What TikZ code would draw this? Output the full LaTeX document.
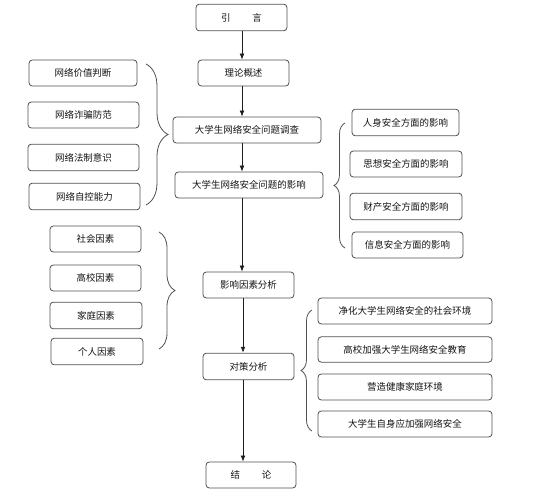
\documentclass[tikz,border=0pt]{standalone}
\usepackage{fontspec}
\newfontfamily\cjk{Noto Sans CJK SC}
\usetikzlibrary{arrows.meta,decorations.pathreplacing}
\tikzset{
    stage/.style={
        rectangle,
        rounded corners=2.5pt,
        draw={rgb,255:red,80;green,80;blue,80},
        line width=0.6pt,
        inner sep=0pt,
        text centered,
        text={rgb,255:red,20;green,20;blue,20},
        font=\cjk\fontsize{7.1pt}{8pt}\selectfont},
    flow/.style={draw={rgb,255:red,30;green,30;blue,30},line width=0.6pt,-{Latex[length=4.5pt,width=3.6pt]}},
    curly/.style={draw={rgb,255:red,80;green,80;blue,80},line width=0.6pt,decorate,decoration={brace,amplitude=#1}}
}

\begin{document}
\begin{tikzpicture}[x=0.75pt,y=0.75pt,yscale=-1,xscale=1]
\useasboundingbox (0,0) rectangle (533,491);

% main line
\node[stage,minimum width=68.25pt,minimum height=20pt] (intro) at (241.5,17.5) {引\hspace{2.3em}言};
\node[stage,minimum width=68.25pt,minimum height=19.5pt] (theory) at (243.5,73) {理论概述};
\node[stage,minimum width=111pt,minimum height=19.5pt] (survey) at (247,130) {大学生网络安全问题调查};
\node[stage,minimum width=111pt,minimum height=19.5pt] (impact) at (249,185) {大学生网络安全问题的影响};
\node[stage,minimum width=68.25pt,minimum height=19.5pt] (factor) at (248.5,285) {影响因素分析};
\node[stage,minimum width=68.25pt,minimum height=20pt] (measure) at (248.5,366.5) {对策分析};
\node[stage,minimum width=67.5pt,minimum height=19.5pt] (concl) at (251,475) {结\hspace{2.3em}论};

% survey topics
\node[stage,minimum width=81pt,minimum height=19.5pt] (value) at (83,73) {网络价值判断};
\node[stage,minimum width=83.25pt,minimum height=19.5pt] (fraud) at (83.5,115) {网络诈骗防范};
\node[stage,minimum width=83.25pt,minimum height=20pt] (law) at (83.5,157.5) {网络法制意识};
\node[stage,minimum width=83.25pt,minimum height=20pt] (control) at (84.5,196.5) {网络自控能力};

% impact topics
\node[stage,minimum width=80.25pt,minimum height=20pt] (person) at (405.5,122.5) {人身安全方面的影响};
\node[stage,minimum width=84pt,minimum height=19.5pt] (thought) at (406,164) {思想安全方面的影响};
\node[stage,minimum width=84pt,minimum height=20pt] (property) at (406,206.5) {财产安全方面的影响};
\node[stage,minimum width=83.25pt,minimum height=19.5pt] (info) at (407.5,245) {信息安全方面的影响};

% factors
\node[stage,minimum width=68.25pt,minimum height=19.5pt] (society) at (95.5,239) {社会因素};
\node[stage,minimum width=68.25pt,minimum height=19.5pt] (school) at (95.5,278) {高校因素};
\node[stage,minimum width=69pt,minimum height=20pt] (family) at (96,315.5) {家庭因素};
\node[stage,minimum width=69pt,minimum height=20pt] (self) at (97,351.5) {个人因素};

% measures
\node[stage,minimum width=130.5pt,minimum height=19.5pt] (purify) at (405,311) {净化大学生网络安全的社会环境};
\node[stage,minimum width=130.5pt,minimum height=19pt] (educate) at (405,349.5) {高校加强大学生网络安全教育};
\node[stage,minimum width=130.5pt,minimum height=19.5pt] (home) at (405,387) {营造健康家庭环境};
\node[stage,minimum width=130.5pt,minimum height=19.5pt] (oneself) at (405,424) {大学生自身应加强网络安全};

% arrows
\coordinate (spine) at (242,0);
\coordinate (spinelow) at (243,0);
\draw[flow] (intro.south -| spine) -- (theory.north -| spine);
\draw[flow] (theory.south -| spine) -- (survey.north -| spine);
\draw[flow] (survey.south -| spine) -- (impact.north -| spine);
\draw[flow] (impact.south -| spine) -- (factor.north -| spine);
\draw[flow] (factor.south -| spinelow) -- (measure.north -| spinelow);
\draw[flow] (measure.south -| spinelow) -- (concl.north -| spinelow);

% braces
\draw[curly=16.5pt] (146,64) -- (146,205);
\draw[curly=8.25pt] (345,248) -- (345,123);
\draw[curly=12pt] (159,232) -- (159,349);
\draw[curly=8.25pt] (312,431) -- (312,310);

\end{tikzpicture}
\end{document}
